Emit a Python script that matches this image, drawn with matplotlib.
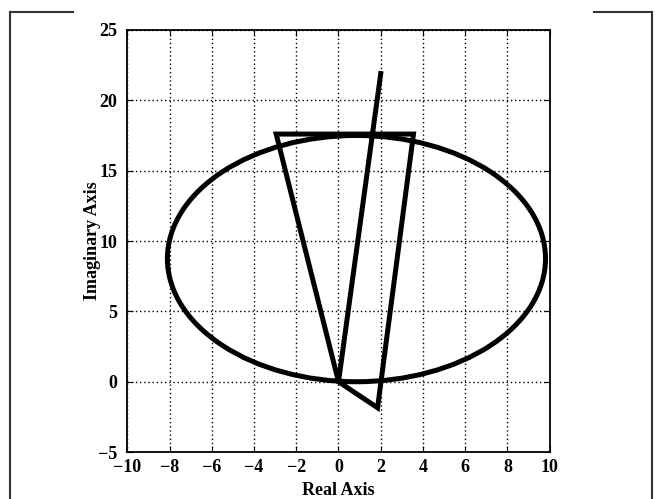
import matplotlib
matplotlib.use("Agg")
import matplotlib.pyplot as plt
from matplotlib.lines import Line2D
from matplotlib.patches import Ellipse

# locus (polyline)
path_re = [2.0, 0.0, -2.95, 3.55, 1.85, 0.0]
path_im = [21.9, 0.0, 17.6, 17.6, -1.85, 0.0]

# ellipse
ell_center = (0.85, 8.75)
ell_width = 17.9
ell_height = 17.5

xticks = list(range(-10, 11, 2))
yticks = list(range(-5, 26, 5))

plt.rcParams["font.family"] = ["Liberation Serif", "DejaVu Serif"]
plt.rcParams["font.weight"] = "bold"

fig = plt.figure(figsize=(6.56, 4.99), dpi=100)
ax = fig.add_axes([0.194, 0.094, 0.644, 0.846])

ax.add_patch(Ellipse(ell_center, ell_width, ell_height, fill=False,
                     edgecolor="black", linewidth=3.6))
ax.plot(path_re, path_im, color="black", linewidth=3.6, solid_joinstyle="miter")

ax.set_xlim(-10, 10)
ax.set_ylim(-5, 25)
ax.set_xticks(xticks)
ax.set_yticks(yticks)
ax.grid(True, color="black", linestyle=(0, (1, 2)), linewidth=1.0)
ax.tick_params(direction="in", top=True, right=True, labelsize=13, length=4)
ax.tick_params(axis="x", pad=5)
ax.tick_params(axis="y", pad=7)
for s in ax.spines.values():
    s.set_linewidth(1.3)
ax.set_xlabel("Real Axis", fontsize=13, fontweight="bold", labelpad=4)
ax.set_ylabel("Imaginary Axis", fontsize=13, fontweight="bold", labelpad=-2)

# outer frame of the source figure
frame = dict(color="#333333", linewidth=1.5, transform=fig.transFigure)
fig.add_artist(Line2D([10 / 656, 10 / 656], [0, 1 - 12 / 499], **frame))
fig.add_artist(Line2D([652 / 656, 652 / 656], [0, 1 - 12 / 499], **frame))
fig.add_artist(Line2D([10 / 656, 73 / 656], [1 - 12 / 499, 1 - 12 / 499], **frame))
fig.add_artist(Line2D([594 / 656, 652 / 656], [1 - 12 / 499, 1 - 12 / 499], **frame))

fig.savefig("out.png", dpi=100)
